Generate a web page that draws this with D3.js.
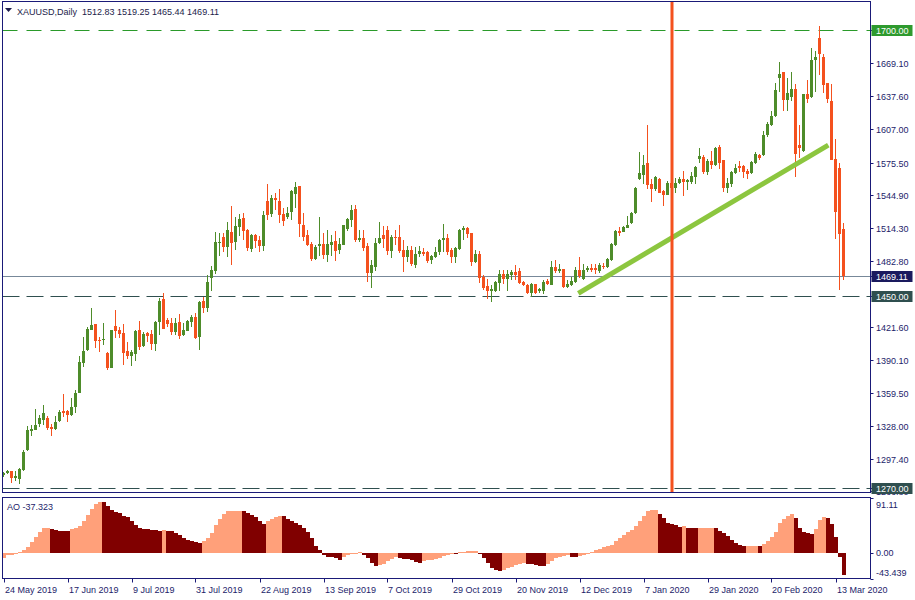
<!DOCTYPE html>
<html><head><meta charset="utf-8">
<script src="https://cdn.jsdelivr.net/npm/d3@7/dist/d3.min.js"></script>
<style>body{margin:0;background:#fff}svg{display:block}</style>
</head><body>
<script>
// ---------- DATA ----------
const symbolTitle = "XAUUSD,Daily";
const lastOHLC = "1512.83 1519.25 1465.44 1469.11";
const opens = [1282,1284,1285.5,1279,1279,1287,1305.5,1323.5,1324.5,1330,1334,1336,1327.5,1325.5,1333,1342,1342,1338.5,1346,1359,1387,1399.5,1418.5,1424,1409,1408.5,1397,1382.5,1422,1418.3,1415.5,1398.5,1394,1396,1418,1403,1415.5,1414.5,1405,1425.5,1447.5,1428,1425,1416.5,1426,1413.5,1418,1426,1430.5,1411.5,1445.5,1439,1467,1474,1500,1505.5,1496,1510,1501,1515,1523.5,1512,1494.5,1507.5,1503,1497,1539.5,1527,1542.3,1539.5,1527,1524.5,1529,1546,1553.5,1517,1507.5,1499,1485,1497,1499,1489,1498,1502,1493.5,1498,1513,1521.5,1532,1503,1504.7,1497,1472,1477.5,1500,1507.5,1512,1492.5,1505.6,1505.6,1493.4,1487,1493.4,1480,1489.7,1491.5,1491.5,1484,1487,1491.5,1502.8,1504.7,1493.4,1487,1494.4,1512.2,1514,1509.4,1482.2,1489.7,1468,1459.6,1455,1455,1462.5,1471,1466.2,1470,1472.8,1473.7,1463.4,1460.5,1453,1461.5,1455,1455,1464.3,1460.5,1477.5,1473.7,1475.6,1458.7,1460.5,1463.4,1474.6,1466.2,1474.6,1476.5,1476.5,1473.7,1478.4,1477.5,1484,1498,1511.3,1510.3,1514,1518.8,1528.2,1560,1563.8,1575,1555.4,1550.7,1560,1548.8,1545,1556,1551.6,1556.3,1560,1557.3,1557.3,1562,1578.9,1580.8,1566.6,1577,1573.2,1590,1577.9,1551.6,1555.4,1565.7,1572.3,1572.3,1567.6,1565.7,1575.1,1582.6,1582.6,1601.4,1610.8,1619.2,1655,1660.6,1634.3,1637.2,1644.6,1592,1586.4,1639.9,1637.2,1671.8,1692.5,1675,1650.2,1633.3,1578.8,1570.4,1512.83];
const highs = [1285.3,1287,1286,1285.6,1289,1306,1328,1329,1344,1339,1348,1337.5,1329.7,1338,1343,1358.5,1343,1354.5,1362,1394,1412,1421,1439,1424,1411.7,1425,1398,1418.5,1437.5,1421,1424,1407,1399.5,1418.3,1427,1416.5,1416.5,1418,1427,1448.5,1453,1429.5,1429.5,1429.5,1433,1425,1428,1432.5,1434,1445.5,1449,1470,1478.5,1510,1509.4,1509.4,1520,1535,1524.5,1527,1528,1513,1508.5,1508.5,1506.5,1530,1555.5,1545,1547,1550.7,1533,1533.5,1550,1557.5,1554,1528,1512,1501,1498,1524.5,1509.5,1512,1507.5,1511,1504.7,1517,1523.5,1535.7,1535.7,1512.2,1512.2,1500,1484,1504.7,1519.7,1516,1516,1507.5,1512.2,1517,1503,1497.2,1497,1496,1497.2,1495.3,1492.5,1488.8,1496,1503.8,1517.8,1508.5,1495.3,1496.2,1513.1,1516,1515,1509.4,1493.4,1492.5,1469.9,1466,1460.5,1464.3,1474.6,1474.6,1474.6,1474.6,1479.3,1476.5,1464.3,1461.5,1462.4,1461.5,1457.7,1465.2,1466,1483,1484,1480.3,1475.6,1465.2,1468,1477.5,1487,1480.3,1478.4,1480.3,1480.3,1481.2,1481.2,1486,1500,1512.2,1515,1516,1525.3,1529.1,1552.6,1585.4,1582.6,1611,1560,1563,1561,1550,1558.2,1558,1561,1561.9,1567.6,1560,1566.7,1572.3,1589.2,1582.6,1578.9,1586.4,1590.1,1592,1578,1561,1567.6,1574.2,1577,1573.2,1569.5,1577,1585.4,1583.6,1605,1613.6,1623.9,1650.2,1669.7,1660.6,1655,1660.6,1649.3,1610.8,1640,1653,1683,1680,1703.8,1677,1650.2,1649.3,1597.7,1575,1519.25];
const lows = [1280,1283,1275,1277,1274,1286,1305,1319,1324,1327,1329,1324,1319,1324.5,1331.5,1337,1332,1337.5,1340.5,1359,1384,1398.5,1418,1401.5,1398,1404,1381,1382.5,1411,1411,1385.5,1391,1384.5,1389,1399.5,1402,1407,1399.5,1398.5,1413.5,1419,1421,1413.5,1413.5,1410,1412.7,1418,1421,1410,1399.5,1434,1435,1455,1471,1488,1491.5,1487,1479,1493.5,1506.5,1503,1492.5,1491.5,1495.3,1491.5,1492.5,1521.5,1524,1531,1519,1516,1522.5,1521.5,1533,1505.6,1502,1497,1483,1484,1488,1485,1482,1488,1483,1489.7,1498,1511,1515,1501,1500.9,1492.4,1463.5,1457.5,1473.7,1499,1495,1489,1486,1498,1490.5,1473,1482,1478.4,1476.5,1486.9,1487.8,1481.2,1480.3,1486,1488.8,1491.5,1488.7,1481.2,1481.2,1493.4,1502.8,1504.7,1478.4,1481.2,1462.4,1455.8,1447.4,1444.6,1454,1455,1461.5,1455,1465.2,1465.2,1461.5,1459.6,1452,1449.3,1452,1453,1452,1460.5,1460.5,1471.8,1471.8,1457.7,1457.7,1459.6,1462.4,1467,1465.2,1472.8,1472.8,1471,1471.8,1475.6,1476.5,1483,1497,1506.5,1510.3,1514,1517.8,1527.2,1559,1555.4,1550.7,1538.5,1548.8,1547,1534.7,1545,1548,1547,1555.4,1544,1549.8,1555.4,1555.4,1575.1,1564.8,1564,1569.5,1572.3,1569.5,1547.9,1547,1552.6,1564.8,1566.7,1561,1560,1564.8,1574.2,1577.9,1581.7,1599.5,1609.8,1618.3,1641.7,1624,1624,1633.3,1562,1579.8,1585.4,1631.5,1636.2,1641.7,1657.7,1641,1631.5,1578,1503.7,1455.8,1465.44];
const closes = [1284,1285.5,1279,1281,1288,1304,1324.5,1325,1329.5,1335.5,1340.5,1326.5,1325.5,1332,1341,1340.5,1338.5,1346,1359,1388,1398.5,1419,1423,1408,1408,1409.5,1382.5,1418,1417.5,1414.5,1397,1394,1397.5,1417.4,1402,1414.5,1412.5,1405,1426,1445.5,1419,1424,1416.5,1425,1412.5,1418.3,1427,1430.5,1411,1444.5,1439,1463.5,1474.5,1501,1501,1496,1512,1500,1516,1522.5,1511,1495,1507.5,1502,1497,1526,1526.5,1542,1540.4,1526,1520,1528.5,1549,1552.5,1518,1505.5,1498,1485,1496,1499,1489,1499,1501,1492.5,1499,1517,1522.5,1531,1503,1504.7,1495.3,1472,1479.5,1500,1504.7,1504,1492.5,1505.6,1504.7,1492.4,1487,1493.4,1480.3,1490,1492.4,1489.7,1483,1487.8,1491.5,1502.8,1504.7,1491.5,1487,1495.3,1512.2,1514,1508.4,1482.2,1489.7,1467,1457.7,1455,1456.8,1463.4,1471,1466.2,1471,1472.8,1470,1462.4,1460.5,1453,1461.5,1453,1456.8,1463.4,1461.5,1477.5,1473.7,1475.6,1458.7,1461.5,1464.3,1474.6,1469,1474.6,1476.5,1474.6,1474.6,1479.3,1477.5,1485,1499,1511.3,1509.4,1515,1516.9,1528.2,1551.6,1565.7,1573.2,1554.5,1550.7,1562,1547,1545,1556.3,1551.6,1556.3,1560,1557.3,1559,1563,1571.4,1581.7,1566.6,1577,1573.2,1589.2,1575,1551.6,1556.3,1566.6,1570.4,1570.4,1566.7,1564.8,1576,1583.6,1579.8,1601.4,1611.7,1619.2,1643.6,1658.7,1634.3,1640.8,1644.6,1583.6,1589.2,1639.9,1635.2,1671.8,1674.6,1677.5,1648.4,1635.2,1578,1529,1508.5,1469.11];
const aoValues = [-7.8,-4.4,-2.8,-1.1,2.2,5,9.4,17.2,25.6,33.9,40.6,41.7,40,37.8,36.7,36.6,36.5,40,41.7,44.4,52.2,62.2,73.3,81.7,85,84.8,78.3,71.7,68.3,66.1,61.7,59.4,53.3,46.7,41.1,40,38.9,38.3,37.8,36.1,37.2,36.7,36.6,32.8,30,24.4,21.1,20,18.3,16.7,20,24.4,32.8,46.7,56.7,64.4,70,70.1,70.2,70.3,68.9,65.6,62.2,58.9,53.3,47.8,52.2,55.6,58.9,61.1,61.0,55.6,52.2,50,46.7,41.1,34.4,24.4,12.2,5,-3.3,-6.1,-6.7,-8.9,-11.1,-6.7,-4.4,-2.2,0.5,1.5,-3.3,-8.9,-16.7,-21.1,-20.6,-18.3,-13.3,-10,-7.2,-8.9,-10,-10.6,-12.2,-14.4,-16.1,-13.5,-12.6,-12.2,-10,-7.8,-5.6,-3.3,-0.6,-0.9,0.8,2.0,3.3,3.4,3.5,-1.5,-8.9,-17.2,-24.4,-28.3,-30,-28.3,-25.6,-22.8,-20,-17.8,-16.1,-17.8,-18.9,-20,-21.7,-21.8,-17.8,-13.3,-8.9,-6.7,-5.6,-4.4,-6.7,-6.8,-5.6,-3.9,-2.2,2.2,4.4,6.7,8.9,10.6,13.3,18.9,24.4,28.9,34.4,38.3,43.9,53.3,60.6,68.9,71.2,71.8,64.4,57.8,49.4,47.8,45.6,43.0,44.0,41.1,41.0,40.9,41.7,41.8,41.9,42.0,40.6,36.7,32.8,27.2,21.7,16.1,13.3,11.7,11.8,11.9,12.0,11.5,14.4,20,25.6,34.4,49.4,56.7,61.7,64.4,57.8,41.1,34.4,32.2,31.1,40,55,60,57.8,47.8,25.6,-6.7,-37.323];
const aoTitle = "AO -37.323";
const dateTickIndex = [0,16,32,48,64,80,96,112,128,144,160,176,192,208];
const dateTickLabels = ["24 May 2019","17 Jun 2019","9 Jul 2019","31 Jul 2019","22 Aug 2019","13 Sep 2019","7 Oct 2019","29 Oct 2019","20 Nov 2019","12 Dec 2019","7 Jan 2020","29 Jan 2020","20 Feb 2020","13 Mar 2020"];
const priceTicks = [1669.10,1637.60,1607.00,1575.50,1544.90,1514.30,1482.80,1421.60,1390.10,1359.50,1328.00,1297.40,1266.80];
const levelHigh = 1700.00, levelMid = 1450.00, levelLow = 1270.00, lastPrice = 1469.11;
const aoMax = 91.11, aoMin = -43.439;
const verticalLineIndex = 167;
const trendStart = [143.7, 1452.8], trendEnd = [206.2, 1592.0];

// ---------- LAYOUT ----------
const W = 915, H = 600;
const L = 2.5, R = 870.5;
const mainTop = 1.5, mainBot = 492.5, aoTop = 497.5, aoBot = 578.5;
const navy = "#1a1a78", txt = "#1c1c6a";
const bull = "#4e8c2a", bear = "#f4511e";
const font = "'Liberation Sans', Arial, sans-serif";

const svg = d3.select("body").append("svg").attr("width", W).attr("height", H)
  .style("font-family", font).style("font-size", "9px");

const x = d3.scaleLinear().domain([0, 210]).range([3.5, 843.5]);
const y = d3.scaleLinear().domain([levelLow, levelHigh]).range([488, 30]);
const ya = d3.scaleLinear().domain([aoMin, aoMax]).range([579, 498]);

svg.append("defs").append("clipPath").attr("id", "mainClip")
  .append("rect").attr("x", L).attr("y", mainTop).attr("width", R - L).attr("height", mainBot - mainTop);
svg.select("defs").append("clipPath").attr("id", "axisClip")
  .append("rect").attr("x", R).attr("y", 0).attr("width", W - R).attr("height", 496);

const main = svg.append("g").attr("clip-path", "url(#mainClip)");

// level lines
function hline(p, color, dash) {
  const yy = Math.round(y(p)) + 0.5;
  const ln = main.append("line").attr("x1", L).attr("x2", R).attr("y1", yy).attr("y2", yy).attr("stroke", color);
  if (dash) ln.attr("stroke-dasharray", dash);
}
hline(levelHigh, "#2a9a2a", "15,9");
hline(levelMid, "#2f4f4f", "17,7");
hline(levelLow, "#2f4f4f", "17,7");
hline(lastPrice, "#778899", null);

// candles
const bars = d3.range(opens.length).map(i => ({i, o: opens[i], h: highs[i], l: lows[i], c: closes[i]}));
const cg = main.append("g").attr("shape-rendering", "crispEdges");
cg.selectAll("line.wick").data(bars).join("line").attr("class", "wick")
  .attr("x1", d => x(d.i)).attr("x2", d => x(d.i))
  .attr("y1", d => Math.round(y(d.h))).attr("y2", d => Math.round(y(d.l)))
  .attr("stroke", d => d.c >= d.o ? bull : bear).attr("stroke-width", 1);
cg.selectAll("rect.body").data(bars).join("rect").attr("class", "body")
  .attr("x", d => x(d.i) - 1.5).attr("width", 3)
  .attr("y", d => Math.round(Math.min(y(d.o), y(d.c))))
  .attr("height", d => Math.max(1, Math.round(Math.abs(y(d.o) - y(d.c)))))
  .attr("fill", d => d.c >= d.o ? bull : bear);

// trend line
main.append("line").attr("x1", x(trendStart[0])).attr("y1", y(trendStart[1]))
  .attr("x2", x(trendEnd[0])).attr("y2", y(trendEnd[1]))
  .attr("stroke", "#8cc63f").attr("stroke-width", 5).attr("stroke-linecap", "butt");

// vertical line
main.append("line").attr("x1", x(verticalLineIndex) + 0.5).attr("x2", x(verticalLineIndex) + 0.5)
  .attr("y1", mainTop).attr("y2", mainBot)
  .attr("stroke", bear).attr("stroke-width", 3);

// header
svg.append("path").attr("d", "M5,8 L12,8 L8.5,12 Z").attr("fill", "#1c1c4a");
svg.append("text").attr("x", 17).attr("y", 14.5).attr("fill", "#1c1c4a")
  .attr("xml:space", "preserve").text(symbolTitle + "  " + lastOHLC);

// frames
svg.append("rect").attr("x", L).attr("y", mainTop).attr("width", R - L).attr("height", mainBot - mainTop)
  .attr("fill", "none").attr("stroke", navy);

// price axis
const ax = svg.append("g").attr("clip-path", "url(#axisClip)");
priceTicks.forEach(p => {
  const yy = Math.round(y(p)) + 0.5;
  ax.append("line").attr("x1", R).attr("x2", R + 3).attr("y1", yy).attr("y2", yy).attr("stroke", navy);
  ax.append("text").attr("x", R + 5.5).attr("y", yy + 3.3).attr("fill", txt).text(p.toFixed(2));
});
function tag(p, bg) {
  const yy = Math.round(y(p)) + 0.5;
  ax.append("line").attr("x1", R).attr("x2", R + 3).attr("y1", yy).attr("y2", yy).attr("stroke", navy);
  ax.append("rect").attr("x", R + 1).attr("y", yy - 5.5).attr("width", 41).attr("height", 11).attr("fill", bg);
  ax.append("text").attr("x", R + 5.5).attr("y", yy + 3.3).attr("fill", "#fff").text(p.toFixed(2));
}
tag(levelHigh, "#2e9a2e");
tag(lastPrice, "#1a1a5e");
tag(levelMid, "#2f4f4f");
tag(levelLow, "#2f4f4f");

// AO histogram
const ag = svg.append("g").attr("shape-rendering", "crispEdges");
const zeroY = Math.round(ya(0));
ag.selectAll("rect").data(aoValues.map((v, i) => ({i, v}))).join("rect")
  .attr("x", d => Math.round(x(d.i) - 1.5))
  .attr("width", 4)
  .attr("y", d => Math.round(Math.min(ya(d.v), zeroY)))
  .attr("height", d => Math.max(1, Math.round(Math.abs(ya(d.v) - zeroY))))
  .attr("fill", d => (d.i === 0 || d.v > aoValues[d.i - 1]) ? "#ffa07a" : "#800000");
svg.append("rect").attr("x", L).attr("y", aoTop).attr("width", R - L).attr("height", aoBot - aoTop)
  .attr("fill", "none").attr("stroke", navy);
svg.append("text").attr("x", 7).attr("y", 510).attr("fill", txt).text(aoTitle);

// AO axis labels
[[aoMax, "91.11", 508], [0, "0.00", zeroY + 3.3], [aoMin, "-43.439", 576]].forEach(([v, s, ty]) => {
  const yy = Math.round(ya(v)) + 0.5;
  svg.append("line").attr("x1", R).attr("x2", R + 3).attr("y1", yy).attr("y2", yy).attr("stroke", navy);
  svg.append("text").attr("x", R + 5.5).attr("y", ty).attr("fill", txt).text(s);
});

// time axis
dateTickIndex.forEach((idx, k) => {
  const xx = Math.round(x(idx)) + 0.5;
  svg.append("line").attr("x1", xx).attr("x2", xx).attr("y1", aoBot).attr("y2", aoBot + 4).attr("stroke", navy);
  svg.append("text").attr("x", xx + 0.5).attr("y", 592.5).attr("fill", txt).text(dateTickLabels[k]);
});
</script>
</body></html>
